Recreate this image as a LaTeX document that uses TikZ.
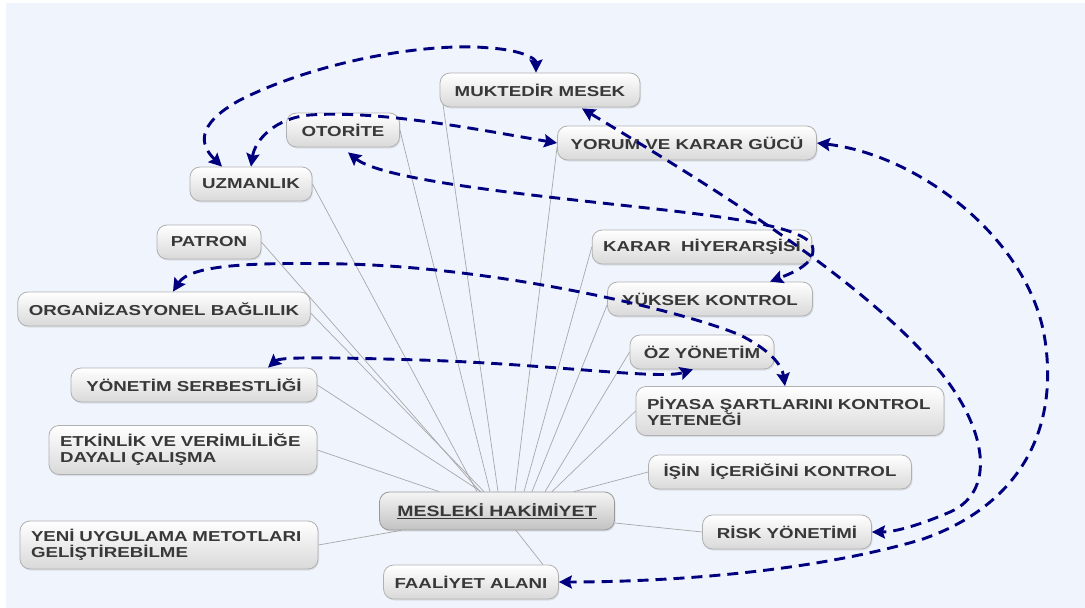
\documentclass[tikz,border=0pt]{standalone}
\usepackage{fontspec}
\newfontfamily\nodefont[FakeStretch=1.3]{Liberation Sans}
\usetikzlibrary{arrows.meta,shadows}
\definecolor{bgc}{HTML}{F0F4FD}
\definecolor{navyc}{HTML}{00007F}
\definecolor{txt}{HTML}{383838}
\definecolor{bord}{HTML}{B0B0B0}
\definecolor{linec}{HTML}{A8A8A8}
\pgfdeclarelayer{back}
\pgfdeclarelayer{lines}
\pgfsetlayers{back,lines,main}
\tikzset{
  box/.style={draw=bord, line width=0.8pt, rounded corners=10pt,
    top color=white, bottom color=black!15,
    drop shadow={opacity=0.18, shadow xshift=1pt, shadow yshift=-1.5pt},
    text=txt, font=\nodefont\fontsize{14.4}{16}\selectfont\bfseries,
    minimum height=34pt, inner xsep=11pt, inner ysep=3pt, anchor=center},
  twoline/.style={text width=#1, align=left, minimum height=49pt},
  mainbox/.style={box, top color=black!4, bottom color=black!24, draw=black!40,
    font=\nodefont\fontsize{15}{17}\selectfont\bfseries, minimum height=38pt},
  conn/.style={draw=linec, line width=0.7pt},
  dasharr/.style={draw=navyc, line width=2.9pt, dash pattern=on 11pt off 7pt,
    {Stealth[length=13pt,width=13pt,inset=2pt]}-{Stealth[length=13pt,width=13pt,inset=2pt]}}
}
\begin{document}
\begin{tikzpicture}[x=1pt,y=-1pt]
\useasboundingbox (0,0) rectangle (1085,608);
\begin{pgfonlayer}{back}
  \fill[white] (0,0) rectangle (1085,608);
  \fill[bgc] (6,3) rectangle (1085,608);
\end{pgfonlayer}

\node[box, minimum width=200pt] (muk) at (540,90) {MUKTEDİR MESEK};
\node[box, minimum width=113pt] (oto) at (343,130) {OTORİTE};
\node[box, minimum width=259pt] (yor) at (687,143) {YORUM VE KARAR GÜCÜ};
\node[box, minimum width=122pt] (uzm) at (251,184) {UZMANLIK};
\node[box, minimum width=104pt] (pat) at (209,242) {PATRON};
\node[box, minimum width=219pt] (kar) at (702,247) {KARAR\ \ HİYERARŞİSİ};
\node[box, minimum width=291pt] (org) at (164,309) {ORGANİZASYONEL BAĞLILIK};
\node[box, minimum width=205pt] (yuk) at (710,299) {YÜKSEK KONTROL};
\node[box, minimum width=144pt] (oz) at (702,352) {ÖZ YÖNETİM};
\node[box, minimum width=246pt] (ys) at (194,385) {YÖNETİM SERBESTLİĞİ};
\node[box, twoline=286pt] (piy) at (790,411) {PİYASA ŞARTLARINI KONTROL\\YETENEĞİ};
\node[box, twoline=246pt] (etk) at (183,450) {ETKİNLİK VE VERİMLİLİĞE\\DAYALI ÇALIŞMA};
\node[box, minimum width=263pt] (isin) at (780,472) {İŞİN\ \ İÇERİĞİNİ KONTROL};
\node[mainbox, minimum width=235pt] (mh) at (497,511) {\underline{MESLEKİ HAKİMİYET}};
\node[box, minimum width=169pt] (risk) at (787,532) {RİSK YÖNETİMİ};
\node[box, twoline=276pt, minimum height=48pt] (yeni) at (169,545) {YENİ UYGULAMA METOTLARI\\GELİŞTİREBİLME};
\node[box, minimum width=172pt] (faal) at (471,582) {FAALİYET ALANI};

\begin{pgfonlayer}{lines}
  \draw[conn] ([xshift=-58pt]mh.north) -- (etk.east);
  \draw[conn] ([xshift=-16pt]mh.north) -- (ys.east);
  \draw[conn] ([xshift=-17pt]mh.north) -- (pat.east);
  \draw[conn] ([xshift=-13pt]mh.north) -- ([yshift=-4pt]org.east);
  \draw[conn] ([xshift=-20pt]mh.north) -- (uzm.east);
  \draw[conn] ([xshift=-7pt]mh.north) -- (oto.east);
  \draw[conn] ([xshift=1pt]mh.north) -- ([shift={(3pt,6pt)}]muk.south west);
  \draw[conn] ([xshift=18pt]mh.north) -- ([yshift=-4pt]yor.west);
  \draw[conn] ([xshift=27pt]mh.north) -- (kar.west);
  \draw[conn] ([xshift=35pt]mh.north) -- ([yshift=-6pt]yuk.west);
  \draw[conn] ([xshift=48pt]mh.north) -- (oz.west);
  \draw[conn] ([xshift=55pt]mh.north) -- (piy.west);
  \draw[conn] ([xshift=77pt]mh.north) -- (isin.west);
  \draw[conn] ([yshift=-12pt]mh.east) -- (risk.west);
  \draw[conn] ([xshift=-96pt]mh.south) -- (yeni.east);
  \draw[conn] ([xshift=19pt]mh.south) -- ([xshift=72pt]faal.north);
\end{pgfonlayer}

% dashed relations
\draw[dasharr] ([xshift=-29pt]uzm.north) .. controls (200,145) and (195,125) .. (240,100)
  .. controls (320,60) and (430,42) .. (490,48) .. controls (520,50) and (536,58) .. ([xshift=-4pt]muk.north);
\draw[dasharr] (uzm.north) .. controls (255,140) and (275,118) .. (310,115)
  .. controls (380,110) and (480,130) .. (yor.west);
\draw[dasharr] ([shift={(5pt,-5pt)}]oto.south) .. controls (380,178) and (500,192) .. (620,205)
  .. controls (720,216) and (800,225) .. (812,245) .. controls (818,262) and (795,272) .. ([xshift=60pt]yuk.north);
\draw[dasharr] ([shift={(42pt,-1pt)}]muk.south) .. controls (700,180) and (850,270) .. (930,360)
  .. controls (985,420) and (1000,490) .. (950,512) .. controls (920,525) and (895,532) .. (risk.east);
\draw[dasharr] (yor.east) .. controls (920,155) and (1030,240) .. (1045,340)
  .. controls (1060,440) and (1010,510) .. (920,540) .. controls (800,575) and (650,582) .. (faal.east);
\draw[dasharr] ([xshift=9pt]org.north) .. controls (190,265) and (250,262) .. (346,264)
  .. controls (500,268) and (680,310) .. (740,335) .. controls (770,350) and (782,365) .. ([xshift=-5pt]piy.north);
\draw[dasharr] ([xshift=74pt]ys.north) .. controls (280,357) and (320,357) .. (420,360)
  .. controls (550,364) and (660,380) .. ([xshift=-9pt]oz.south);
\end{tikzpicture}
\end{document}
